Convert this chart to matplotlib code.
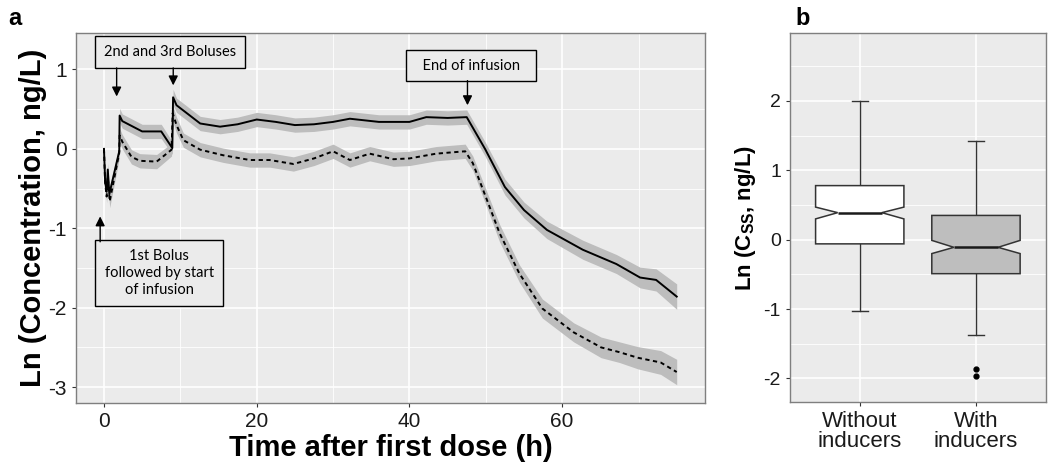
import numpy as np
import matplotlib
matplotlib.use("Agg")
import matplotlib.pyplot as plt
from matplotlib.ticker import MultipleLocator

# ── Panel a: mean Ln concentration with ribbon ─────────────────────────────────
t_without = [0, 0.15, 0.35, 0.5, 0.7, 2.0, 2.05, 2.4, 5.0, 7.5, 8.95, 9.05, 9.5,
             12.6, 15.2, 17.5, 20, 22.5, 25, 27.5, 30, 32.2, 36, 40, 42.2, 45,
             47.5, 49.9, 52.5, 55, 58, 62.7, 67.1, 70.2, 72.3, 75]
ln_without = [0.0, -0.41, -0.54, -0.26, -0.57, -0.03, 0.42, 0.35, 0.22, 0.22,
              0.01, 0.65, 0.55, 0.32, 0.28, 0.31, 0.37, 0.34, 0.30, 0.31, 0.34,
              0.38, 0.34, 0.34, 0.40, 0.39, 0.40, 0.0, -0.48, -0.77, -1.02,
              -1.27, -1.45, -1.62, -1.65, -1.86]
band_without = [0.05, 0.07, 0.08, 0.08, 0.08, 0.07, 0.09, 0.09, 0.09, 0.09,
                0.08, 0.10, 0.09, 0.09, 0.09, 0.09, 0.09, 0.09, 0.09, 0.09,
                0.09, 0.09, 0.09, 0.09, 0.09, 0.09, 0.09, 0.09, 0.10, 0.10,
                0.11, 0.12, 0.12, 0.13, 0.14, 0.16]

t_with = [0, 0.15, 0.35, 0.5, 0.75, 2.0, 2.05, 2.4, 3.6, 4.7, 6.9, 8.85, 9.0,
          9.5, 10.4, 12.6, 15.6, 19.1, 21.7, 24.8, 27.5, 30, 32.2, 34.8, 37.9,
          40, 43.5, 47.3, 48.3, 50.3, 51.8, 54.4, 57.4, 61.5, 65.1, 67.5, 69.9,
          72.9, 75]
ln_with = [0.0, -0.42, -0.60, -0.35, -0.66, -0.05, 0.17, 0.09, -0.10, -0.15,
           -0.16, -0.01, 0.45, 0.30, 0.11, -0.01, -0.08, -0.14, -0.14, -0.19,
           -0.12, -0.03, -0.14, -0.06, -0.13, -0.12, -0.06, -0.03, -0.18, -0.68,
           -1.06, -1.57, -2.01, -2.31, -2.50, -2.56, -2.63, -2.69, -2.81]
band_with = [0.05, 0.07, 0.08, 0.08, 0.08, 0.07, 0.09, 0.09, 0.09, 0.09, 0.09,
             0.08, 0.10, 0.10, 0.09, 0.09, 0.09, 0.09, 0.09, 0.09, 0.09, 0.09,
             0.09, 0.09, 0.09, 0.09, 0.09, 0.09, 0.09, 0.10, 0.11, 0.11, 0.12,
             0.12, 0.13, 0.13, 0.14, 0.15, 0.16]

# ── Panel b: notched box plot of Ln(Css) ───────────────────────────────────────
groups = ["Without\ninducers", "With\ninducers"]
whisk_lo = [-1.03, -1.38]
q1 = [-0.06, -0.49]
med = [0.39, -0.11]
q3 = [0.78, 0.35]
whisk_hi = [2.00, 1.43]
notch_lo = [0.30, -0.20]
notch_hi = [0.47, -0.01]
outliers = [[], [-1.87, -1.97]]
box_fill = ["white", "#BEBEBE"]

BG = "#EBEBEB"
BAND = "#BDBDBD"
SANS = ["Liberation Sans", "DejaVu Sans"]
NOTE = ["Lato", "DejaVu Sans"]
plt.rcParams["font.family"] = SANS
plt.rcParams["axes.unicode_minus"] = False


def gg_axes(ax):
    ax.set_facecolor(BG)
    ax.grid(which="major", color="white", lw=1.2)
    ax.grid(which="minor", color="white", lw=0.6)
    ax.set_axisbelow(True)
    for s in ax.spines.values():
        s.set_color("#7F7F7F")
        s.set_linewidth(1.0)
    ax.tick_params(which="major", length=3, color="#333333", labelcolor="#1A1A1A")
    ax.tick_params(which="minor", length=0)


fig = plt.figure(figsize=(10.5, 4.71), dpi=100)
axa = fig.add_axes([0.0724, 0.1444, 0.599, 0.7856])
axb = fig.add_axes([0.7524, 0.1465, 0.2435, 0.7834])

# ── a ──────────────────────────────────────────────────────────────────────────
for t, y, b in [(t_without, ln_without, band_without), (t_with, ln_with, band_with)]:
    t, y, b = np.array(t), np.array(y), np.array(b)
    axa.fill_between(t, y - b, y + b, color=BAND, lw=0, zorder=2)
axa.plot(t_without, ln_without, color="black", lw=1.4, zorder=3)
axa.plot(t_with, ln_with, color="black", lw=1.4, ls=(0, (2.2, 1.8)), zorder=3)

axa.set_xlim(-3.66, 78.7)
axa.set_ylim(-3.2, 1.46)
axa.xaxis.set_major_locator(MultipleLocator(20))
axa.xaxis.set_minor_locator(MultipleLocator(10))
axa.yaxis.set_major_locator(MultipleLocator(1))
axa.yaxis.set_minor_locator(MultipleLocator(0.5))
gg_axes(axa)
axa.tick_params(labelsize=15)
axa.set_xlabel("Time after first dose (h)", fontsize=21, fontweight="bold", labelpad=2)
axa.set_ylabel("Ln (Concentration, ng/L)", fontsize=21, fontweight="bold", labelpad=1)

box_kw = dict(boxstyle="square,pad=0.6", fc=BG, ec="black", lw=1.0)
arr_kw = dict(arrowstyle="-|>", color="black", lw=1.0, mutation_scale=14,
              shrinkA=0, shrinkB=0)
axa.text(8.64, 1.22, "2nd and 3rd Boluses", ha="center", va="center",
         fontsize=10.5, family=NOTE, bbox=box_kw, zorder=5)
axa.annotate("", xy=(1.66, 0.66), xytext=(1.66, 1.02), arrowprops=arr_kw, zorder=5)
axa.annotate("", xy=(9.07, 0.80), xytext=(9.07, 1.02), arrowprops=arr_kw, zorder=5)
axa.text(48.1, 1.05, "  End of infusion  ", ha="center", va="center",
         fontsize=10.5, family=NOTE, bbox=box_kw, zorder=5)
axa.annotate("", xy=(47.6, 0.55), xytext=(47.6, 0.86), arrowprops=arr_kw, zorder=5)
axa.text(7.26, -1.56, "1st Bolus\nfollowed by start\nof infusion", ha="center",
         va="center", fontsize=10.5, family=NOTE, linespacing=1.25,
         bbox=dict(boxstyle="square,pad=0.65", fc=BG, ec="black", lw=1.0), zorder=5)
axa.annotate("", xy=(-0.5, -0.85), xytext=(-0.5, -1.17), arrowprops=arr_kw, zorder=5)

# ── b ──────────────────────────────────────────────────────────────────────────
stats = []
for i in range(len(groups)):
    stats.append(dict(med=med[i], q1=q1[i], q3=q3[i], whislo=whisk_lo[i],
                      whishi=whisk_hi[i], cilo=notch_lo[i], cihi=notch_hi[i],
                      fliers=outliers[i]))
bp = axb.bxp(stats, positions=[1, 2], widths=0.76, capwidths=0.14, shownotches=True,
             patch_artist=True,
             boxprops=dict(ec="#333333", lw=1.1),
             whiskerprops=dict(color="#333333", lw=1.0),
             capprops=dict(color="#333333", lw=1.0),
             medianprops=dict(color="#1A1A1A", lw=1.8),
             flierprops=dict(marker="o", mfc="black", mec="black", ms=3.5))
for patch, c in zip(bp["boxes"], box_fill):
    patch.set_facecolor(c)
    patch.set_zorder(3)
for m in bp["medians"]:
    m.set_zorder(4)

axb.set_xlim(0.4, 2.6)
axb.set_ylim(-2.34, 2.98)
axb.set_xticks([1, 2])
axb.set_xticklabels(groups, fontsize=16, linespacing=0.95)
axb.yaxis.set_major_locator(MultipleLocator(1))
axb.yaxis.set_minor_locator(MultipleLocator(0.5))
axb.set_yticks([-2, -1, 0, 1, 2])
gg_axes(axb)
axb.tick_params(axis="y", labelsize=14)
axb.set_ylabel(r"Ln (C$_{\mathregular{SS}}$, ng/L)", fontsize=16, fontweight="bold",
               labelpad=4)

fig.text(0.008, 0.96, "a", fontsize=17, fontweight="bold", va="center")
fig.text(0.758, 0.96, "b", fontsize=17, fontweight="bold", va="center")

plt.savefig("out.png", dpi=100)
